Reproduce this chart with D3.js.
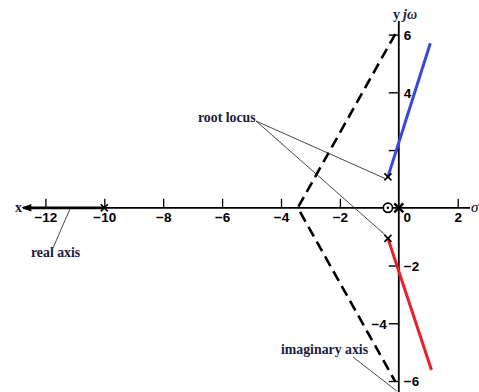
<!DOCTYPE html>
<html>
<head>
<meta charset="utf-8">
<script src="https://cdn.jsdelivr.net/npm/d3@7"></script>
<style>
  html, body { margin: 0; padding: 0; background: #fff; }
  svg { display: block; }
  .tick text { font-family: "Liberation Sans", Arial, sans-serif; font-weight: bold; font-size: 13.5px; fill: #000; }
  .note { font-family: "Liberation Serif", "Times New Roman", serif; font-weight: bold; font-size: 13.8px; fill: #1c1c3c; }
</style>
</head>
<body>
<svg id="chart" width="479" height="392"></svg>
<script>
// Real-axis ticks (0 is labelled separately, to the right of the jω axis)
const realTicks = [-12, -10, -8, -6, -4, -2, 2];
const realTickLabels = ["\u221212", "\u221210", "\u22128", "\u22126", "\u22124", "\u22122", "2"];
// Imaginary-axis ticks and the side their label sits on
const imagTicks = [6, 4, 2, -2, -4, -6];
const imagTickLabels = ["6", "4", "", "\u22122", "\u22124", "\u22126"];
const imagLabelSide = ["right", "right", "right", "right", "left", "right"];

// Open-loop poles and zero
const poles = [[-10, 0], [-0.37, 1.07], [-0.37, -1.06]];
const originPole = [0, 0];
const zeros = [[-0.37, 0]];

// Root-locus branches leaving the complex poles
const upperBranch = [[-0.37, 1.07], [1.07, 5.7]];
const lowerBranch = [[-0.37, -1.06], [1.11, -5.62]];
// Real-axis branch from the pole at -10 out to -infinity
const realBranch = [[-10, 0], [-12.75, 0]];

// Asymptotes from their centroid
const asymptotes = [[-0.12, 6.02], [-3.43, 0], [-0.12, -6.02]];

const svg = d3.select("#chart");
const x = d3.scaleLinear().domain([-12, 2]).range([45.4, 457.7]);
const y = d3.scaleLinear().domain([-6, 6]).range([381, 34.6]);
const line = d3.line().x(d => x(d[0])).y(d => y(d[1]));

const x0 = x(0), y0 = y(0);

// Asymptotes (dashed)
svg.append("path")
  .attr("d", line(asymptotes))
  .attr("fill", "none")
  .attr("stroke", "#000")
  .attr("stroke-width", 2.6)
  .attr("stroke-dasharray", "11,6");

// Real axis
const xAxis = d3.axisBottom(x)
  .tickValues(realTicks)
  .tickFormat((d, i) => realTickLabels[i])
  .tickSizeInner(-9)
  .tickSizeOuter(0)
  .tickPadding(5);
const gx = svg.append("g").attr("transform", `translate(0,${y0})`).call(xAxis);
gx.select(".domain").remove();
gx.selectAll(".tick line").attr("stroke", "#000").attr("stroke-width", 1.3);

svg.append("line")
  .attr("x1", 24).attr("x2", 470)
  .attr("y1", y0).attr("y2", y0)
  .attr("stroke", "#000").attr("stroke-width", 1.8);

// Real-axis branch of the locus, ending in an arrowhead
svg.append("path")
  .attr("d", line(realBranch))
  .attr("stroke", "#000").attr("stroke-width", 2.8);
svg.append("path")
  .attr("d", `M${x(-12.75) - 2},${y0} l10,-3.8 l0,7.6 Z`)
  .attr("fill", "#000");

// Imaginary axis
const yAxis = d3.axisLeft(y)
  .tickValues(imagTicks)
  .tickFormat("")
  .tickSizeInner(10)
  .tickSizeOuter(0);
const gy = svg.append("g").attr("transform", `translate(${x0},0)`).call(yAxis);
gy.select(".domain").remove();
gy.selectAll(".tick line").attr("stroke", "#000").attr("stroke-width", 1.4);
gy.selectAll(".tick").append("text")
  .attr("x", (d, i) => imagLabelSide[i] === "right" ? 5 : -12)
  .attr("dy", "0.36em")
  .attr("text-anchor", (d, i) => imagLabelSide[i] === "right" ? "start" : "end")
  .attr("fill", "#000")
  .text((d, i) => imagTickLabels[i]);

svg.append("line")
  .attr("x1", x0).attr("x2", x0)
  .attr("y1", 21).attr("y2", 392)
  .attr("stroke", "#000").attr("stroke-width", 1.8);

// Origin label
svg.append("text")
  .attr("x", x0 + 8.5).attr("y", y0 + 5).attr("dy", "0.71em")
  .attr("text-anchor", "middle")
  .style("font-family", "Liberation Sans, Arial, sans-serif")
  .style("font-weight", "bold").style("font-size", "13.5px")
  .text("0");

// Root-locus branches
svg.append("path").attr("d", line(upperBranch))
  .attr("stroke", "#3848dc").attr("stroke-width", 3).attr("fill", "none");
svg.append("path").attr("d", line(lowerBranch))
  .attr("stroke", "#ee1c25").attr("stroke-width", 3).attr("fill", "none");

// Poles
const xSym = d3.symbol().type(d3.symbolX).size(34);
svg.selectAll(".pole").data(poles).join("path")
  .attr("class", "pole")
  .attr("transform", d => `translate(${x(d[0])},${y(d[1])})`)
  .attr("d", xSym)
  .attr("fill", "none").attr("stroke", "#000").attr("stroke-width", 1.6);
svg.append("path")
  .attr("transform", `translate(${x(originPole[0])},${y(originPole[1])})`)
  .attr("d", d3.symbol().type(d3.symbolX).size(55))
  .attr("fill", "none").attr("stroke", "#000").attr("stroke-width", 2.4);

// Zero
svg.selectAll(".zero").data(zeros).join("circle")
  .attr("class", "zero")
  .attr("cx", d => x(d[0])).attr("cy", d => y(d[1]))
  .attr("r", 4.6)
  .attr("fill", "#fff").attr("stroke", "#000").attr("stroke-width", 1.7);
svg.selectAll(".zdot").data(zeros).join("circle")
  .attr("class", "zdot")
  .attr("cx", d => x(d[0])).attr("cy", d => y(d[1]))
  .attr("r", 1.3).attr("fill", "#000");

// Axis names
svg.append("text").attr("x", 15).attr("y", y0 + 4)
  .style("font-family", "Liberation Serif, serif").style("font-size", "14px")
  .style("font-weight", "bold").attr("fill", "#1c1c3c").text("x");
svg.append("text").attr("x", 471).attr("y", y0 + 4)
  .style("font-family", "Liberation Serif, serif").style("font-size", "15px")
  .style("font-style", "italic").attr("fill", "#000").text("\u03c3");
const yName = svg.append("text").attr("x", 393).attr("y", 19)
  .style("font-family", "Liberation Serif, serif").style("font-size", "14px")
  .attr("fill", "#1c1c3c");
yName.append("tspan").style("font-weight", "bold").text("y");
yName.append("tspan").attr("dx", 3).style("font-weight", "bold").style("font-style", "italic").text("j\u03c9");

// Annotations with leader lines to the features they name
function leader(x1, y1, x2, y2) {
  svg.append("line")
    .attr("x1", x1).attr("y1", y1).attr("x2", x2).attr("y2", y2)
    .attr("stroke", "#333").attr("stroke-width", 0.9);
}
svg.append("text").attr("class", "note").attr("x", 198).attr("y", 122).text("root locus");
leader(256, 121, x(poles[1][0]) - 2, y(poles[1][1]) + 2);
leader(256, 121, x(poles[2][0]) - 1, y(poles[2][1]) - 2);

svg.append("text").attr("class", "note").attr("x", 31).attr("y", 257).text("real axis");
leader(53, 248, 70, y0 + 1);

svg.append("text").attr("class", "note").attr("x", 281).attr("y", 354).text("imaginary axis");
leader(353, 357, x0 - 2, 391);
</script>
</body>
</html>
